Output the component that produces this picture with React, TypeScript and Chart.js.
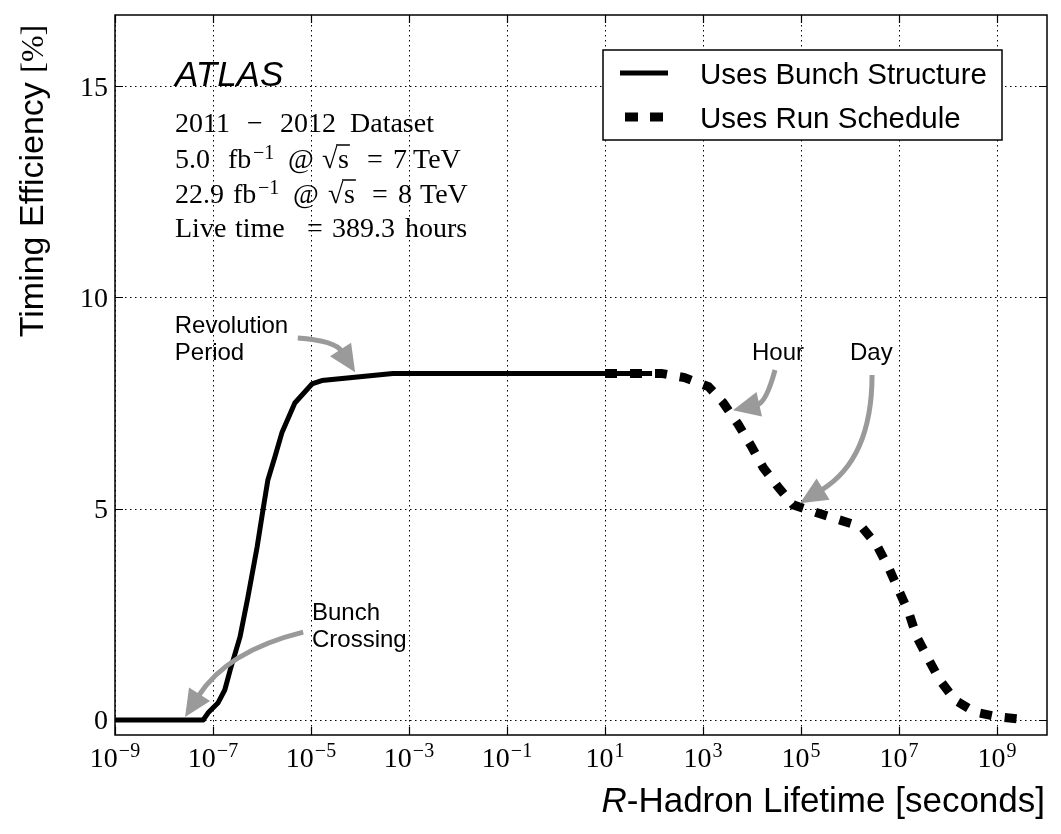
import { useEffect, useRef } from 'react';
import { Chart, registerables } from 'chart.js';

Chart.register(...registerables);

// log10 of the R-hadron lifetime in seconds, and the timing efficiency in %
const bunchLogLifetime = [-9, -7.2, -7.1, -6.9, -6.76, -6.65, -6.45, -6.29, -6.1, -5.98, -5.88, -5.73, -5.59, -5.33, -4.98, -4.78, -3.33, 1.96];
const bunchEfficiency = [0, 0, 0.17, 0.4, 0.71, 1.18, 1.96, 2.89, 4.09, 4.97, 5.68, 6.25, 6.81, 7.5, 7.95, 8.03, 8.2, 8.2];

const scheduleLogLifetime = [1.0, 2.15, 2.62, 3.11, 3.41, 3.72, 3.99, 4.23, 4.54, 4.84, 5.31, 5.77, 6.24, 6.54, 6.79, 6.99, 7.2, 7.36, 7.61, 7.83, 8.14, 8.55, 9.04, 9.65];
const scheduleEfficiency = [8.2, 8.2, 8.1, 7.89, 7.51, 6.99, 6.47, 5.97, 5.5, 5.09, 4.91, 4.74, 4.57, 4.15, 3.6, 3.08, 2.54, 1.97, 1.42, 0.95, 0.47, 0.19, 0.07, 0.0];

const seriesLabels = ['Uses Bunch Structure', 'Uses Run Schedule'];

const xTickExponents = [-9, -7, -5, -3, -1, 1, 3, 5, 7, 9];
const yTickValues = [0, 5, 10, 15];

const xMinExponent = -9;
const xMaxExponent = 10.02;
const yMin = -0.355;
const yMax = 16.68;

// annotation labels: text lines, anchor (log10 lifetime, efficiency)
const noteLines = [['Revolution', 'Period'], ['Bunch', 'Crossing'], ['Hour'], ['Day']];
const noteLogX = [-7.78, -4.98, 4.0, 6.0];
const noteY = [9.32, 2.53, 8.68, 8.68];

// arrows: start and tip (log10 lifetime, efficiency), curvature
const arrowFromLogX = [-5.27, -5.16, 4.47, 6.45];
const arrowFromY = [9.04, 2.08, 8.28, 8.16];
const arrowToLogX = [-4.1, -7.57, 3.61, 4.98];
const arrowToY = [8.23, 0.07, 7.33, 5.13];
const arrowBend = [0.25, -0.2, 0.3, 0.28];

const SERIF = '"Liberation Serif", "Times New Roman", serif';
const SANS = '"Liberation Sans", Arial, Helvetica, sans-serif';

type Part = [number, string, string?];

// dataset info block, one row per line: [x offset, text, kind]
const infoRows: Part[][] = [
  [[0, '2011'], [72, '\u2212'], [105, '2012'], [175, 'Dataset']],
  [[0, '5.0'], [53, 'fb'], [78, '\u22121', 'sup'], [113, '@'], [147, '\u221A'], [163, 's', 'ol'], [192, '='], [218, '7'], [238, 'TeV']],
  [[0, '22.9'], [58, 'fb'], [83, '\u22121', 'sup'], [118, '@'], [153, '\u221A'], [169, 's', 'ol'], [197, '='], [223, '8'], [245, 'TeV']],
  [[0, 'Live'], [60, 'time'], [132, '='], [157, '389.3'], [230, 'hours']],
];

function drawArrow(ctx: CanvasRenderingContext2D, x1: number, y1: number, x2: number, y2: number, rad: number) {
  const mx = (x1 + x2) / 2;
  const my = (y1 + y2) / 2;
  const dx = x2 - x1;
  const dy = y2 - y1;
  const cx = mx + rad * dy;
  const cy = my - rad * dx;
  let ux = x2 - cx;
  let uy = y2 - cy;
  const len = Math.hypot(ux, uy) || 1;
  ux /= len;
  uy /= len;
  const headLen = 27;
  const halfW = 12.5;
  const bx = x2 - ux * headLen;
  const by = y2 - uy * headLen;
  ctx.save();
  ctx.strokeStyle = '#9a9a9a';
  ctx.fillStyle = '#9a9a9a';
  ctx.lineWidth = 5;
  ctx.lineCap = 'butt';
  ctx.beginPath();
  ctx.moveTo(x1, y1);
  ctx.quadraticCurveTo(cx, cy, bx + ux * 2, by + uy * 2);
  ctx.stroke();
  ctx.beginPath();
  ctx.moveTo(x2, y2);
  ctx.lineTo(bx - uy * halfW, by + ux * halfW);
  ctx.lineTo(bx + uy * halfW, by - ux * halfW);
  ctx.closePath();
  ctx.fill();
  ctx.restore();
}

const decorations = {
  id: 'decorations',
  beforeDatasetsDraw(chart: any) {
    const { ctx, chartArea: a, scales } = chart;
    const x = scales.x;
    const y = scales.y;
    ctx.save();
    ctx.strokeStyle = '#000';
    ctx.lineWidth = 1;
    ctx.setLineDash([1.5, 3.5]);
    for (const t of x.ticks) {
      const px = Math.round(x.getPixelForValue(t.value)) + 0.5;
      ctx.beginPath();
      ctx.moveTo(px, a.top);
      ctx.lineTo(px, a.bottom);
      ctx.stroke();
    }
    for (const t of y.ticks) {
      const py = Math.round(y.getPixelForValue(t.value)) + 0.5;
      ctx.beginPath();
      ctx.moveTo(a.left, py);
      ctx.lineTo(a.right, py);
      ctx.stroke();
    }
    ctx.restore();
  },
  afterDatasetsDraw(chart: any) {
    const { ctx, chartArea: a, scales } = chart;
    const x = scales.x;
    const y = scales.y;
    const px = (e: number) => x.getPixelForValue(Math.pow(10, e));
    const py = (v: number) => y.getPixelForValue(v);

    ctx.save();
    // frame
    ctx.strokeStyle = '#000';
    ctx.lineWidth = 1.5;
    ctx.strokeRect(a.left, a.top, a.right - a.left, a.bottom - a.top);

    // inward ticks
    ctx.lineWidth = 1.2;
    const tl = 8;
    for (const t of x.ticks) {
      const p = Math.round(x.getPixelForValue(t.value)) + 0.5;
      ctx.beginPath();
      ctx.moveTo(p, a.bottom);
      ctx.lineTo(p, a.bottom - tl);
      ctx.moveTo(p, a.top);
      ctx.lineTo(p, a.top + tl);
      ctx.stroke();
    }
    for (const t of y.ticks) {
      const p = Math.round(y.getPixelForValue(t.value)) + 0.5;
      ctx.beginPath();
      ctx.moveTo(a.left, p);
      ctx.lineTo(a.left + tl, p);
      ctx.moveTo(a.right, p);
      ctx.lineTo(a.right - tl, p);
      ctx.stroke();
    }

    // x tick labels: 10 with a raised exponent
    ctx.fillStyle = '#000';
    ctx.textBaseline = 'alphabetic';
    ctx.textAlign = 'left';
    xTickExponents.forEach((e) => {
      const base = '10';
      const exp = e < 0 ? '\u2212' + Math.abs(e) : String(e);
      ctx.font = `28px ${SERIF}`;
      const wb = ctx.measureText(base).width;
      ctx.font = `20px ${SERIF}`;
      const we = ctx.measureText(exp).width;
      const cx = px(e);
      const left = cx - (wb + 1 + we) / 2;
      const baseY = a.bottom + 32;
      ctx.font = `28px ${SERIF}`;
      ctx.fillText(base, left, baseY);
      ctx.font = `20px ${SERIF}`;
      ctx.fillText(exp, left + wb + 1, baseY - 10);
    });

    // y tick labels
    ctx.font = `28px ${SERIF}`;
    ctx.textAlign = 'right';
    yTickValues.forEach((v) => {
      ctx.fillText(String(v), a.left - 7, py(v) + 9.5);
    });

    // axis titles
    ctx.textAlign = 'left';
    ctx.font = `italic 35px ${SANS}`;
    const wR = ctx.measureText('R').width;
    ctx.font = `35px ${SANS}`;
    const rest = '-Hadron Lifetime [seconds]';
    const wRest = ctx.measureText(rest).width;
    const xl = a.right - 2 - wR - wRest;
    ctx.font = `italic 35px ${SANS}`;
    ctx.fillText('R', xl, 812);
    ctx.font = `35px ${SANS}`;
    ctx.fillText(rest, xl + wR, 812);

    ctx.save();
    ctx.translate(43, 181);
    ctx.rotate(-Math.PI / 2);
    ctx.font = `34px ${SANS}`;
    const t1 = 'Timing Efficiency ';
    const w1 = ctx.measureText(t1).width;
    ctx.font = `32px ${SERIF}`;
    const t2 = '[%]';
    const w2 = ctx.measureText(t2).width;
    const sx = -(w1 + w2) / 2;
    ctx.font = `34px ${SANS}`;
    ctx.fillText(t1, sx, 0);
    ctx.font = `32px ${SERIF}`;
    ctx.fillText(t2, sx + w1, 0);
    ctx.restore();

    // ATLAS label and dataset info
    const bx = a.left + 60;
    ctx.font = `italic 35px ${SANS}`;
    ctx.fillText('ATLAS', bx, a.top + 71);
    const rowBase = [132, 168, 203, 237];
    infoRows.forEach((row, ri) => {
      const by = rowBase[ri];
      row.forEach(([off, txt, kind]) => {
        if (kind === 'sup') {
          ctx.font = `20px ${SERIF}`;
          ctx.fillText(txt, bx + off, by - 9);
        } else {
          ctx.font = `28px ${SERIF}`;
          ctx.fillText(txt, bx + off, by);
          if (kind === 'ol') {
            const w = ctx.measureText(txt).width;
            ctx.lineWidth = 1.5;
            ctx.beginPath();
            ctx.moveTo(bx + off - 2, by - 23);
            ctx.lineTo(bx + off + w + 1, by - 23);
            ctx.stroke();
          }
        }
      });
    });

    // annotations
    ctx.font = `24px ${SANS}`;
    ctx.textBaseline = 'middle';
    noteLines.forEach((lines, i) => {
      lines.forEach((ln, j) => {
        ctx.fillText(ln, px(noteLogX[i]), py(noteY[i]) + j * 27);
      });
    });
    arrowFromLogX.forEach((_, i) => {
      drawArrow(ctx, px(arrowFromLogX[i]), py(arrowFromY[i]), px(arrowToLogX[i]), py(arrowToY[i]), arrowBend[i]);
    });

    // legend
    const lx = a.right - 444;
    const ly = a.top + 35;
    ctx.fillStyle = '#fff';
    ctx.fillRect(lx, ly, 399, 90);
    ctx.strokeStyle = '#000';
    ctx.lineWidth = 1.5;
    ctx.strokeRect(lx, ly, 399, 90);
    const rows = [ly + 23, ly + 67];
    ctx.lineWidth = 5;
    ctx.beginPath();
    ctx.moveTo(lx + 17, rows[0]);
    ctx.lineTo(lx + 65, rows[0]);
    ctx.stroke();
    ctx.lineWidth = 9;
    ctx.setLineDash([13, 12]);
    ctx.beginPath();
    ctx.moveTo(lx + 22, rows[1]);
    ctx.lineTo(lx + 60, rows[1]);
    ctx.stroke();
    ctx.setLineDash([]);
    ctx.fillStyle = '#000';
    ctx.font = `29.5px ${SANS}`;
    ctx.textBaseline = 'alphabetic';
    seriesLabels.forEach((lab, i) => {
      ctx.fillText(lab, lx + 97, rows[i] + 11);
    });
    ctx.restore();
  },
};

export default function App() {
  const ref = useRef<HTMLCanvasElement>(null);
  useEffect(() => {
    const canvas = ref.current;
    if (!canvas) return;
    const chart = new Chart(canvas, {
      type: 'line',
      data: {
        datasets: [
          {
            label: seriesLabels[0],
            data: bunchLogLifetime.map((e, i) => ({ x: Math.pow(10, e), y: bunchEfficiency[i] })),
            borderColor: '#000',
            borderWidth: 5,
            pointRadius: 0,
            tension: 0,
            borderJoinStyle: 'round',
            fill: false,
          },
          {
            label: seriesLabels[1],
            data: scheduleLogLifetime.map((e, i) => ({ x: Math.pow(10, e), y: scheduleEfficiency[i] })),
            borderColor: '#000',
            borderWidth: 9,
            borderDash: [12, 13],
            borderCapStyle: 'butt',
            pointRadius: 0,
            tension: 0,
            fill: false,
          },
        ],
      },
      options: {
        responsive: false,
        animation: false,
        devicePixelRatio: 1,
        layout: { padding: { top: 15, right: 14, left: 0, bottom: 0 } },
        plugins: { legend: { display: false }, tooltip: { enabled: false } },
        scales: {
          x: {
            type: 'logarithmic',
            min: Math.pow(10, xMinExponent),
            max: Math.pow(10, xMaxExponent),
            afterBuildTicks: (s: any) => {
              s.ticks = xTickExponents.map((e) => ({ value: Math.pow(10, e) }));
            },
            afterFit: (s: any) => {
              s.height = 99;
            },
            ticks: { display: false },
            grid: { display: false },
            border: { display: false },
          },
          y: {
            type: 'linear',
            min: yMin,
            max: yMax,
            afterBuildTicks: (s: any) => {
              s.ticks = yTickValues.map((v) => ({ value: v }));
            },
            afterFit: (s: any) => {
              s.width = 115;
            },
            ticks: { display: false },
            grid: { display: false },
            border: { display: false },
          },
        },
      } as any,
      plugins: [decorations],
    });
    return () => chart.destroy();
  }, []);
  return (
    <div style={{ position: 'absolute', left: 0, top: 0, width: 1061, height: 834, background: '#fff' }}>
      <canvas ref={ref} width={1061} height={834} style={{ display: 'block' }} />
    </div>
  );
}
